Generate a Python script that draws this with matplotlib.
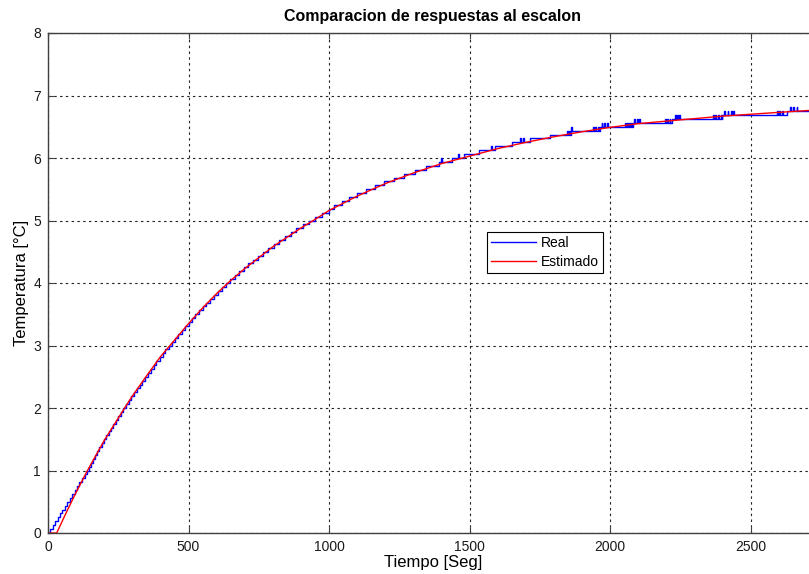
import numpy as np
import matplotlib
matplotlib.use("Agg")
import matplotlib.pyplot as plt

plt.rcParams['font.family'] = ['Liberation Sans', 'DejaVu Sans']

# Estimated first-order model response (time in s, temperature in degC)
est_t = [0, 31, 60, 100, 138, 200, 274, 300, 350, 400, 434, 500, 550, 600, 650, 700,
         800, 900, 944, 1000, 1100, 1200, 1300, 1400, 1500, 1600, 1700, 1800,
         1900, 2000, 2100, 2200, 2300, 2400, 2500, 2600, 2740]
est_y = [0.00, 0.00, 0.28, 0.65, 0.98, 1.48, 2.01, 2.19, 2.51, 2.82, 3.00, 3.35,
         3.60, 3.83, 4.04, 4.23, 4.58, 4.88, 5.00, 5.16, 5.39, 5.59, 5.76, 5.91, 6.03,
         6.15, 6.25, 6.34, 6.42, 6.49, 6.55, 6.59, 6.63, 6.67, 6.70, 6.73, 6.77]

# Measured response: sensor resolution and the times at which the reading
# rises by one resolution step
resolution = 0.0625
real_step_t = [7, 18, 26, 35, 43, 51, 60, 68, 77, 86, 95, 104, 112, 121, 130, 138,
               145, 152, 160, 168, 175, 183, 191, 199, 207, 216, 224, 232, 241, 250,
               258, 267, 279, 288, 297, 307, 316, 326, 335, 345, 355, 365, 376, 386,
               397, 408, 418, 430, 441, 452, 464, 476, 488, 500, 512, 524, 537, 550,
               562, 576, 590, 604, 618, 633, 649, 664, 680, 696, 713, 730, 747, 765,
               784, 803, 822, 842, 863, 884, 906, 928, 951, 975, 1000, 1018, 1045,
               1072, 1100, 1130, 1162, 1195, 1230, 1266, 1305, 1346, 1390, 1436, 1480,
               1535, 1590, 1650, 1715, 1785, 1860, 1965, 2080, 2220, 2400, 2630]
end_time = 2740

# Short flickers of the reading one step up (start time, duration)
blip_t = [1399, 1460, 1578, 1680, 1690, 1847, 1855, 1862,
          1940, 1948, 1956, 1970, 1978, 1988,
          2053, 2060, 2068, 2075, 2085, 2095, 2104,
          2196, 2204, 2212, 2230, 2238, 2247,
          2367, 2375, 2384, 2395, 2405, 2418, 2430, 2437,
          2594, 2602, 2612, 2640, 2650, 2664]
blip_len = 3

# Build the stepped measurement trace from the step and flicker events
ev_t = list(real_step_t) + list(blip_t) + [b + blip_len for b in blip_t]
ev_d = [1] * len(real_step_t) + [1] * len(blip_t) + [-1] * len(blip_t)
order = np.argsort(ev_t, kind="stable")
real_t = np.concatenate([[0], np.array(ev_t)[order], [end_time]])
lvl = np.concatenate([[0], np.cumsum(np.array(ev_d)[order])])
real_y = np.concatenate([lvl, [lvl[-1]]]) * resolution

fig = plt.figure(figsize=(8.09, 5.74), dpi=100)
ax = fig.add_axes([48 / 809, 41 / 574, 770 / 809, 500 / 574])

ax.plot(real_t, real_y, drawstyle="steps-post", color="#0000ff", lw=1.0, label="Real")
ax.plot(est_t, est_y, color="#ff0000", lw=1.0, label="Estimado")

ax.set_xlim(0, 2740)
ax.set_ylim(0, 8)
ax.set_xticks(np.arange(0, 2501, 500))
ax.set_yticks(np.arange(0, 9, 1))

ax.grid(True, color="#222222", linestyle=(0, (2.2, 3.0)), linewidth=0.8)
ax.tick_params(direction="in", length=4, width=0.8, colors="#404040",
               labelcolor="#1a1a1a", labelsize=10, top=True, right=True, pad=5)
for s in ax.spines.values():
    s.set_color("#404040")
    s.set_linewidth(1.0)

ax.set_title("Comparacion de respuestas al escalon", fontsize=11.5, fontweight="bold",
             pad=9)
ax.set_xlabel("Tiempo [Seg]", fontsize=12, labelpad=1)
ax.set_ylabel("Temperatura [°C]", fontsize=12, labelpad=3)

leg = ax.legend(loc="upper left", bbox_to_anchor=((487 - 48) / 770, (533 - 232) / 500),
                fontsize=10, frameon=True, fancybox=False, edgecolor="#000000",
                framealpha=1, borderpad=0.3, labelspacing=0.35, handlelength=3.2,
                handletextpad=0.4, borderaxespad=0)
leg.get_frame().set_linewidth(0.8)

fig.savefig("out.png", dpi=100)
